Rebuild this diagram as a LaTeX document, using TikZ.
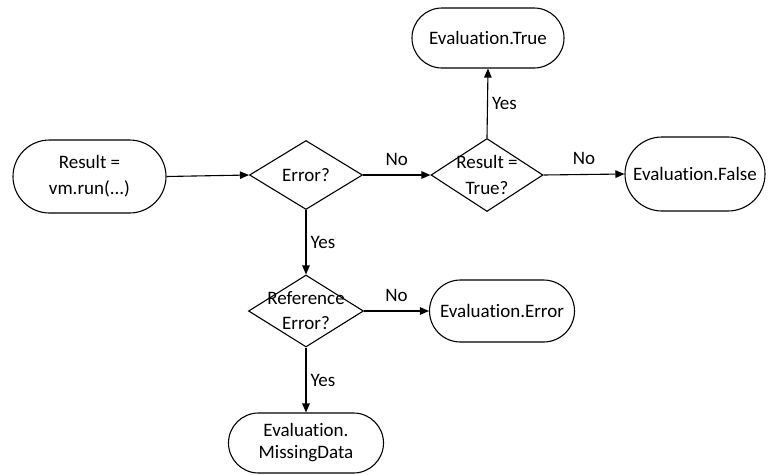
\documentclass[tikz,border=0pt]{standalone}
\usepackage{fontspec}
\setmainfont[Ligatures={NoCommon},Contextuals={NoAlternate}]{Carlito}
\usetikzlibrary{shapes.geometric,shapes.misc,arrows.meta}
\begin{document}
\begin{tikzpicture}[x=1pt,y=-1pt,
  every node/.style={font=\fontsize{19}{26}\selectfont},
  term/.style={rounded rectangle,draw,line width=1.1pt,align=center,inner sep=0pt},
  dia/.style={diamond,draw,line width=1.1pt,inner sep=0pt},
  conn/.style={line width=1.1pt,-{Triangle[length=9pt,width=7.5pt]}},
  lbl/.style={inner sep=2pt}]
\useasboundingbox (0,0) rectangle (768,474);
\node[term,minimum width=153pt,minimum height=73pt] (res) at (89.5,176.5) {Result =\\vm.run(...)};
\node[dia,minimum width=113pt,minimum height=69pt,label=center:{Error?}] (err) at (306,175) {};
\node[dia,minimum width=112pt,minimum height=73pt,label={[align=center]center:{Result =\\True?}}] (rt) at (487,175) {};
\node[term,minimum width=152pt,minimum height=60pt] (evT) at (488,38) {Evaluation.True};
\node[term,minimum width=140pt,minimum height=74pt] (evF) at (695,174) {Evaluation.False};
\node[dia,minimum width=115pt,minimum height=72pt,label={[align=center,font=\fontsize{19}{25}\selectfont]center:{Reference\\Error?}}] (ref) at (306,311) {};
\node[term,minimum width=145pt,minimum height=62pt] (evE) at (502,311) {Evaluation.Error};
\node[term,minimum width=155pt,minimum height=60pt,font=\fontsize{19}{22}\selectfont] (evM) at (306,443) {Evaluation.\\MissingData};
\draw[conn] (res.east) -- (err.west);
\draw[conn] (err.east) -- node[lbl,midway,above=7pt] {No} (rt.west);
\draw[conn] (rt.north) -- node[lbl,midway,right=2pt] {Yes} (evT.south);
\draw[conn] (rt.east) -- node[lbl,midway,above=7pt] {No} (evF.west);
\draw[conn] (err.south) -- node[lbl,midway,right=2pt] {Yes} (ref.north);
\draw[conn] (ref.east) -- node[lbl,midway,above=7pt] {No} (evE.west);
\draw[conn] (ref.south) -- node[lbl,midway,right=2pt] {Yes} (evM.north);
\end{tikzpicture}
\end{document}
